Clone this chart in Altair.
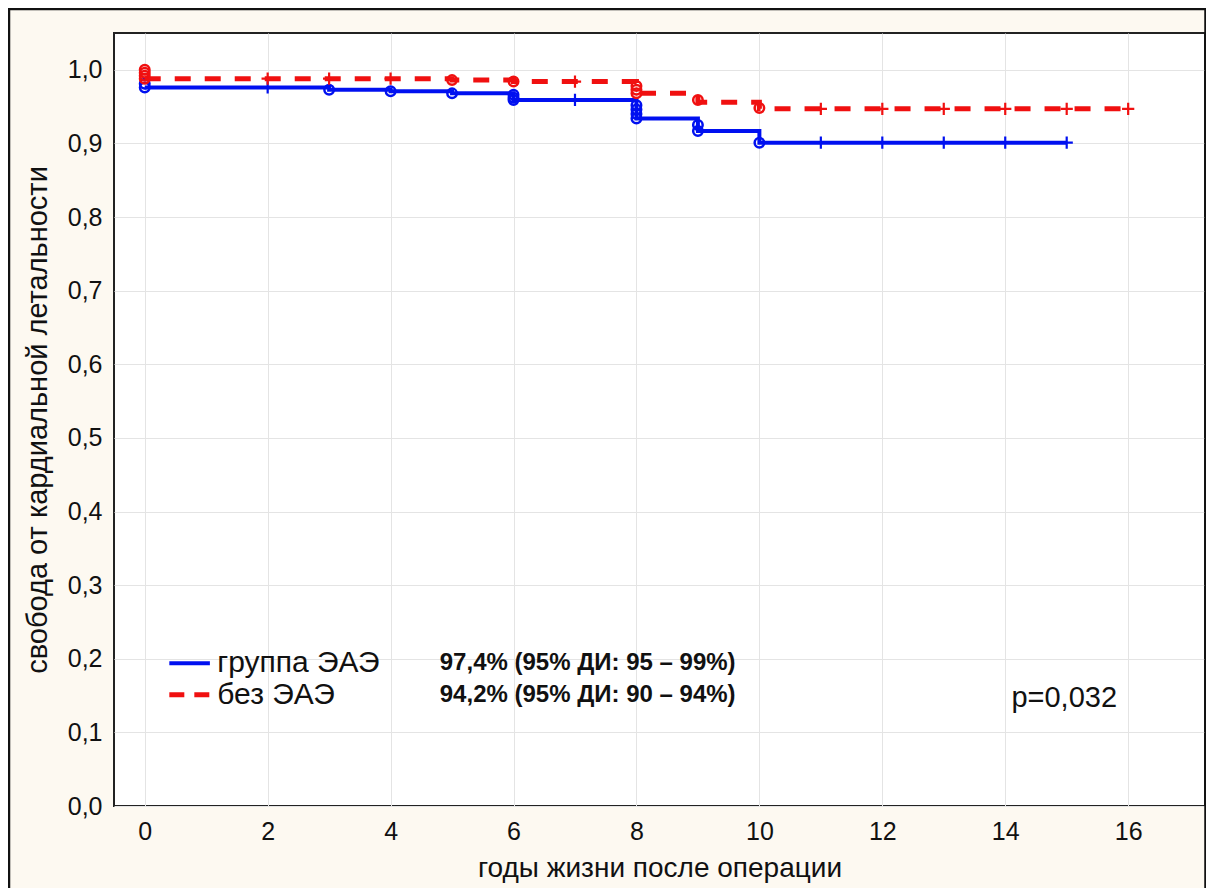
import altair as alt
import pandas as pd

# ---- data ----
series_names = ["группа ЭАЭ", "без ЭАЭ"]
colors = ["#0010f0", "#f01010"]

# Kaplan-Meier steps (time, survival)
blue_t = [0, 3, 4, 5, 6, 8, 9, 10, 15]
blue_s = [0.976, 0.973, 0.971, 0.968, 0.959, 0.934, 0.917, 0.901, 0.901]
red_t = [0, 5, 6, 8, 9, 10, 16]
red_s = [0.988, 0.986, 0.984, 0.968, 0.956, 0.947, 0.947]

# complete observations (circles)
blue_ev_t = [0, 0, 3, 4, 5, 6, 6, 6, 8, 8, 8, 8, 9, 9, 10]
blue_ev_s = [0.981, 0.976, 0.973, 0.971, 0.968, 0.966, 0.962, 0.959,
             0.952, 0.946, 0.940, 0.934, 0.925, 0.917, 0.901]
red_ev_t = [0, 0, 0, 0, 5, 6, 8, 8, 8, 9, 10]
red_ev_s = [1.0, 0.996, 0.992, 0.988, 0.986, 0.984, 0.978, 0.973, 0.968, 0.959, 0.948]

# censored observations (plus signs)
blue_cen_t = [2, 7, 11, 12, 13, 14, 15]
blue_cen_s = [0.976, 0.959, 0.901, 0.901, 0.901, 0.901, 0.901]
red_cen_t = [2, 3, 4, 7, 11, 12, 13, 14, 15, 16]
red_cen_s = [0.988, 0.988, 0.988, 0.984, 0.947, 0.947, 0.947, 0.947, 0.947, 0.947]

# annotation texts
stats_text = ["97,4% (95% ДИ: 95 – 99%)", "94,2% (95% ДИ: 90 – 94%)"]
p_text = "p=0,032"
x_ticks = [0, 2, 4, 6, 8, 10, 12, 14, 16]
y_ticks = [0.0, 0.1, 0.2, 0.3, 0.4, 0.5, 0.6, 0.7, 0.8, 0.9, 1.0]

# legend anchor positions (data units)
leg_x1, leg_x2, leg_tx, stats_x = 0.4, 1.06, 1.18, 4.8
leg_y = [0.194, 0.151]
p_x, p_y = 14.1, 0.147

FONT = "Liberation Sans"
W, H = 1091, 773

xs = alt.Scale(domain=[-0.5, 17.25], nice=False, zero=False)
ys = alt.Scale(domain=[0, 1.05], nice=False, zero=False)

steps = pd.concat([
    pd.DataFrame({"t": blue_t, "s": blue_s, "g": series_names[0]}),
    pd.DataFrame({"t": red_t, "s": red_s, "g": series_names[1]}),
])
events = pd.concat([
    pd.DataFrame({"t": blue_ev_t, "s": blue_ev_s, "g": series_names[0]}),
    pd.DataFrame({"t": red_ev_t, "s": red_ev_s, "g": series_names[1]}),
])
cens = pd.concat([
    pd.DataFrame({"t": blue_cen_t, "s": blue_cen_s, "g": series_names[0]}),
    pd.DataFrame({"t": red_cen_t, "s": red_cen_s, "g": series_names[1]}),
])
legend_df = pd.DataFrame({
    "g": series_names, "x1": [leg_x1] * 2, "x2": [leg_x2] * 2, "tx": [leg_tx] * 2,
    "sx": [stats_x] * 2, "y": leg_y, "stats": stats_text,
})
p_df = pd.DataFrame({"x": [p_x], "y": [p_y], "txt": [p_text]})

x_axis = alt.Axis(values=x_ticks, format="d", title="годы жизни после операции", grid=True,
                  gridColor="#e4e4e4", gridWidth=1, ticks=False, domain=False,
                  labelFontSize=25, labelPadding=13, labelColor="#111",
                  titleFontSize=28, titleFontWeight="normal", titlePadding=10,
                  titleColor="#111", labelFont=FONT, titleFont=FONT)
y_axis = alt.Axis(values=y_ticks, title="свобода от кардиальной летальности", grid=True,
                  gridColor="#e4e4e4", gridWidth=1, ticks=False, domain=False,
                  labelExpr="replace(format(datum.value, '.1f'), '.', ',')",
                  labelFontSize=25, labelPadding=12, labelColor="#111",
                  titleFontSize=29, titleFontWeight="normal", titlePadding=15,
                  titleColor="#111", labelFont=FONT, titleFont=FONT)

base_x = alt.X("t:Q", scale=xs, axis=x_axis)
base_y = alt.Y("s:Q", scale=ys, axis=y_axis)

layers = []
# outer frame (decoration)
frame = alt.Chart(pd.DataFrame({"a": [0]})).mark_rect(
    fill=None, stroke="#111", strokeWidth=2.5
).encode(x=alt.value(-105), x2=alt.value(W + 0.5), y=alt.value(-24), y2=alt.value(H + 120))
layers.append(frame)

styles = {series_names[0]: dict(strokeWidth=4, strokeDash=[1, 0]),
          series_names[1]: dict(strokeWidth=5, strokeDash=[16, 14])}

for name, col in zip(series_names, colors):
    st = styles[name]
    line = alt.Chart(steps).transform_filter(alt.datum.g == name).mark_line(
        interpolate="step-after", color=col, strokeWidth=st["strokeWidth"],
        strokeDash=st["strokeDash"]
    ).encode(x=base_x, y=base_y)
    circ = alt.Chart(events).transform_filter(alt.datum.g == name).mark_point(
        shape="circle", filled=False, color=col, size=90, strokeWidth=2.5, opacity=1
    ).encode(x=base_x, y=base_y)
    plus = alt.Chart(cens).transform_filter(alt.datum.g == name).mark_point(
        shape="M-1,0H1M0,-1V1", filled=False, color=col, size=150, strokeWidth=2.2, opacity=1
    ).encode(x=base_x, y=base_y)
    leg = alt.Chart(legend_df).transform_filter(alt.datum.g == name).mark_rule(
        color=col, strokeWidth=st["strokeWidth"],
        strokeDash=[15, 10] if st["strokeDash"][1] else [1, 0]
    ).encode(x=alt.X("x1:Q", scale=xs), x2="x2:Q", y=alt.Y("y:Q", scale=ys))
    layers += [line, circ, plus, leg]

leg_text = alt.Chart(legend_df).mark_text(
    align="left", baseline="middle", fontSize=30, font=FONT, color="#111"
).encode(x=alt.X("tx:Q", scale=xs), y=alt.Y("y:Q", scale=ys), text="g:N")
stats = alt.Chart(legend_df).mark_text(
    align="left", baseline="middle", fontSize=24, font=FONT, fontWeight="bold", color="#111"
).encode(x=alt.X("sx:Q", scale=xs), y=alt.Y("y:Q", scale=ys), text="stats:N")
ptext = alt.Chart(p_df).mark_text(
    align="left", baseline="middle", fontSize=29, font=FONT, color="#111"
).encode(x=alt.X("x:Q", scale=xs), y=alt.Y("y:Q", scale=ys), text="txt:N")
layers += [leg_text, stats, ptext]

chart = alt.layer(*layers).properties(
    width=W, height=H,
    autosize=alt.AutoSizeParams(type="none"),
    padding={"left": 106, "top": 25, "right": 1, "bottom": 82},
    background="#fdf9f1",
).configure_view(
    fill="white", stroke="#222", strokeWidth=2
)

chart.save("out.html", embed_options={"renderer": "svg", "actions": False})
